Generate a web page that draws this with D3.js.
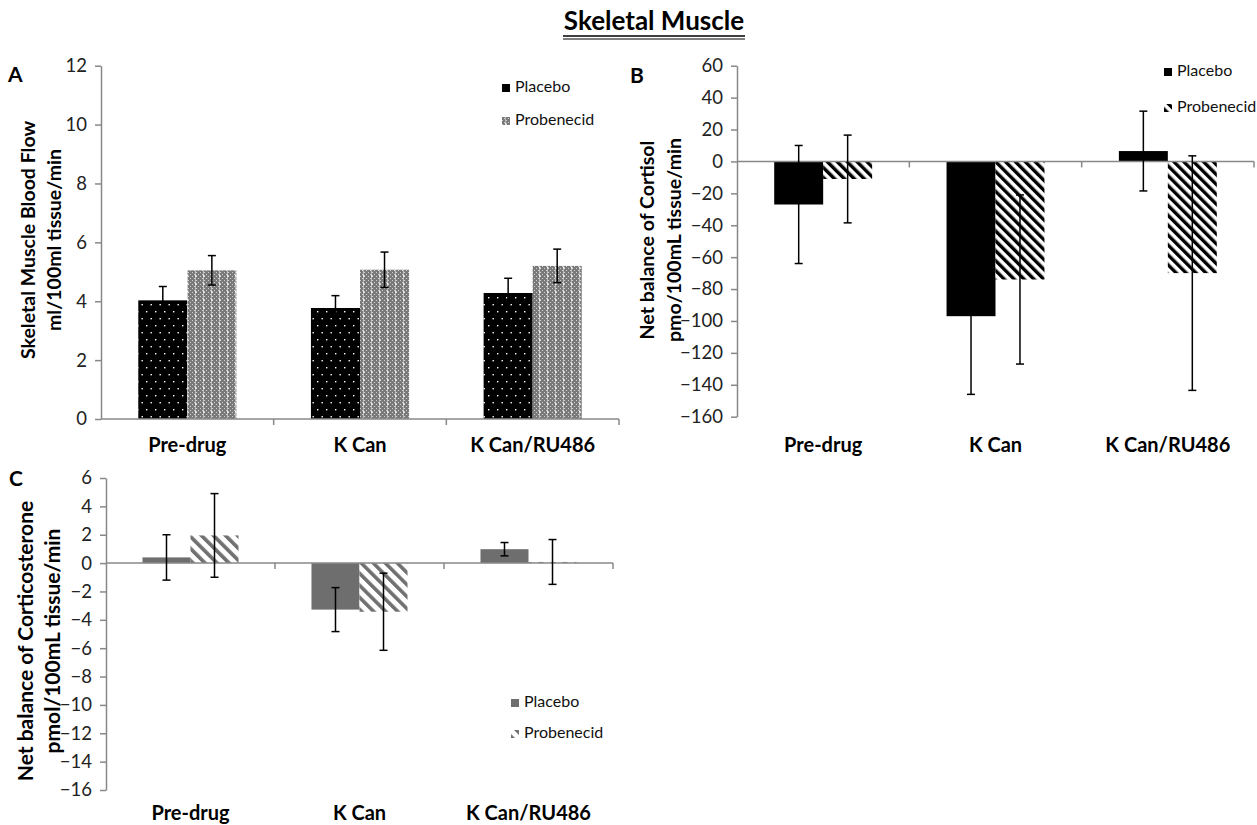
<!DOCTYPE html>
<html>
<head>
<meta charset="utf-8">
<script src="https://cdn.jsdelivr.net/npm/d3@7"></script>
<style>
  body { margin: 0; background: #fff; }
  svg { display: block; font-family: Lato, "Open Sans", sans-serif; }
</style>
</head>
<body>
<div id="chart"></div>
<script>
//Data
var categories = ["Pre-drug", "K Can", "K Can/RU486"];
var seriesNames = ["Placebo", "Probenecid"];

var flowPlacebo = [4.03, 3.77, 4.28];
var flowPlaceboErr = [0.47, 0.42, 0.5];
var flowProbenecid = [5.05, 5.07, 5.2];
var flowProbenecidErr = [0.5, 0.6, 0.57];
var flowTicks = [0, 2, 4, 6, 8, 10, 12];

var cortisolPlacebo = [-27, -97, 6.5];
var cortisolPlaceboErr = [37, 49, 25];
var cortisolProbenecid = [-11, -74, -70];
var cortisolProbenecidErr = [27.5, 53, 73.5];
var cortisolTicks = [60, 40, 20, 0, -20, -40, -60, -80, -100, -120, -140, -160];

var corticoPlacebo = [0.4, -3.28, 0.98];
var corticoPlaceboErr = [1.6, 1.55, 0.47];
var corticoProbenecid = [1.95, -3.43, 0.08];
var corticoProbenecidErr = [2.95, 2.72, 1.58];
var corticoTicks = [6, 4, 2, 0, -2, -4, -6, -8, -10, -12, -14, -16];

var axisColor = "#888";

//SVG
var svg = d3.select("#chart").append("svg")
    .attr("width", 1257)
    .attr("height", 825);

//Patterns
var defs = svg.append("defs");

var dots = defs.append("pattern").attr("id", "blackDots")
    .attr("patternUnits", "userSpaceOnUse")
    .attr("width", 9).attr("height", 14);
dots.append("rect").attr("width", 9).attr("height", 14).attr("fill", "#000");
dots.append("rect").attr("x", 2).attr("y", 3).attr("width", 1.4).attr("height", 1.4).attr("fill", "#fff");
dots.append("rect").attr("x", 6.5).attr("y", 10).attr("width", 1.4).attr("height", 1.4).attr("fill", "#fff");

var grid = defs.append("pattern").attr("id", "greyGrid")
    .attr("patternUnits", "userSpaceOnUse")
    .attr("width", 8).attr("height", 8);
grid.append("rect").attr("width", 8).attr("height", 8).attr("fill", "#7a7a7a");
[[0, 0], [2, 2], [4, 0], [6, 2], [0, 4], [2, 6], [4, 4], [6, 6]].forEach(p => {
    grid.append("rect").attr("x", p[0]).attr("y", p[1]).attr("width", 1).attr("height", 1).attr("fill", "#d0d0d0");
});
grid.append("rect").attr("x", 3).attr("y", 0).attr("width", 1).attr("height", 8).attr("fill", "#bbb");
grid.append("rect").attr("x", 3).attr("y", 3).attr("width", 1.5).attr("height", 1.5).attr("fill", "#fff");

function hatch(id, color, size, width) {
    var p = defs.append("pattern").attr("id", id)
        .attr("patternUnits", "userSpaceOnUse")
        .attr("width", size).attr("height", size)
        .attr("patternTransform", "rotate(-45)");
    p.append("rect").attr("width", size).attr("height", size).attr("fill", "#fff");
    p.append("rect").attr("x", 0).attr("width", width).attr("height", size).attr("fill", color);
}
hatch("blackHatch", "#000", 7, 3.4);
hatch("greyHatch", "#707070", 8.5, 3.6);

//Title
svg.append("text")
    .attr("x", 654).attr("y", 30)
    .attr("text-anchor", "middle")
    .attr("font-size", 26).attr("font-weight", "bold")
    .text("Skeletal Muscle");
svg.append("line").attr("x1", 563).attr("x2", 745).attr("y1", 36).attr("y2", 36).attr("stroke", "#000").attr("stroke-width", 1.5);
svg.append("line").attr("x1", 563).attr("x2", 745).attr("y1", 39).attr("y2", 39).attr("stroke", "#000").attr("stroke-width", 1.2);

function drawPanel(cfg) {
    var g = svg.append("g");

    var x = d3.scaleBand().domain(categories).range(cfg.xRange).paddingInner(0).paddingOuter(0);
    var xs = d3.scaleBand().domain(seriesNames).range([0, x.bandwidth()]).paddingInner(0).paddingOuter(0.76);
    var y = d3.scaleLinear().domain(cfg.yDomain).range(cfg.yRange);

    //y axis
    var yAxis = g.append("g")
        .attr("transform", `translate(${cfg.xRange[0]},0)`)
        .call(d3.axisLeft(y).tickValues(cfg.ticks).tickSize(6).tickSizeOuter(0).tickPadding(8));
    yAxis.select(".domain").attr("stroke", axisColor).attr("stroke-width", 1.5);
    yAxis.selectAll(".tick line").attr("stroke", axisColor).attr("stroke-width", 1.5);
    yAxis.selectAll(".tick text").attr("font-size", 18.5).attr("fill", "#222").attr("font-family", "Lato, sans-serif");

    //bars
    var series = [
        { name: "Placebo", values: cfg.placebo, errs: cfg.placeboErr, fill: cfg.fills[0] },
        { name: "Probenecid", values: cfg.probenecid, errs: cfg.probenecidErr, fill: cfg.fills[1] }
    ];
    series.forEach(s => {
        g.selectAll(null).data(categories).enter().append("rect")
            .attr("x", c => x(c) + xs(s.name))
            .attr("width", xs.bandwidth())
            .attr("y", (c, i) => y(Math.max(0, s.values[i])))
            .attr("height", (c, i) => Math.abs(y(s.values[i]) - y(0)))
            .attr("fill", s.fill);
    });

    //x axis at zero
    var y0 = y(0);
    g.append("line").attr("x1", cfg.xRange[0]).attr("x2", cfg.xRange[1])
        .attr("y1", y0).attr("y2", y0).attr("stroke", axisColor).attr("stroke-width", 1.5);
    g.selectAll(null).data(categories).enter().append("line")
        .attr("x1", c => x(c) + x.bandwidth()).attr("x2", c => x(c) + x.bandwidth())
        .attr("y1", y0).attr("y2", y0 + 6)
        .attr("stroke", axisColor).attr("stroke-width", 1.5);

    //error bars
    series.forEach(s => {
        categories.forEach((c, i) => {
            var cx = x(c) + xs(s.name) + xs.bandwidth() / 2;
            var top = y(s.values[i] + s.errs[i]);
            var bot = y(s.values[i] - s.errs[i]);
            g.append("line").attr("x1", cx).attr("x2", cx).attr("y1", top).attr("y2", bot)
                .attr("stroke", "#000").attr("stroke-width", 1.5);
            [top, bot].forEach(yy => {
                g.append("line").attr("x1", cx - 4).attr("x2", cx + 4).attr("y1", yy).attr("y2", yy)
                    .attr("stroke", "#000").attr("stroke-width", 1.5);
            });
        });
    });

    //category labels
    g.selectAll(null).data(categories).enter().append("text")
        .attr("x", c => x(c) + x.bandwidth() / 2)
        .attr("y", cfg.labelY)
        .attr("text-anchor", "middle")
        .attr("dominant-baseline", "middle")
        .attr("font-size", 20).attr("font-weight", "bold")
        .text(c => c);

    //y label
    var yl = g.append("text")
        .attr("transform", `translate(${cfg.yLabelX},${cfg.yLabelY}) rotate(-90)`)
        .attr("text-anchor", "middle")
        .attr("font-size", cfg.yLabelSize).attr("font-weight", "bold");
    yl.append("tspan").attr("x", 0).attr("dy", 0).text(cfg.yLabel[0]);
    yl.append("tspan").attr("x", 0).attr("dy", cfg.yLabelGap).text(cfg.yLabel[1]);

    //panel letter
    g.append("text").attr("x", cfg.letterPos[0]).attr("y", cfg.letterPos[1])
        .attr("font-size", 21).attr("font-weight", "bold").text(cfg.letter);

    //legend
    var leg = g.append("g").attr("transform", `translate(${cfg.legendPos[0]},${cfg.legendPos[1]})`);
    seriesNames.forEach((n, i) => {
        leg.append("rect").attr("x", 0).attr("y", i * cfg.legendGap - 4).attr("width", 8).attr("height", 8)
            .attr("fill", cfg.legendFills[i]);
        leg.append("text").attr("x", 13).attr("y", i * cfg.legendGap)
            .attr("dominant-baseline", "middle")
            .attr("font-size", 16).attr("fill", "#111")
            .text(n);
    });
}

drawPanel({
    letter: "A", letterPos: [8, 82],
    xRange: [101, 619], yDomain: [0, 12], yRange: [419, 65.7], ticks: flowTicks,
    placebo: flowPlacebo, placeboErr: flowPlaceboErr,
    probenecid: flowProbenecid, probenecidErr: flowProbenecidErr,
    fills: ["url(#blackDots)", "url(#greyGrid)"],
    legendFills: ["#000", "url(#greyGrid)"],
    labelY: 447,
    yLabel: ["Skeletal Muscle Blood Flow", "ml/100ml tissue/min"], yLabelX: 35, yLabelY: 240,
    yLabelSize: 19.5, yLabelGap: 26,
    legendPos: [502, 88], legendGap: 33
});

drawPanel({
    letter: "B", letterPos: [630, 83],
    xRange: [737, 1254], yDomain: [-160, 60], yRange: [416.7, 65.7], ticks: cortisolTicks,
    placebo: cortisolPlacebo, placeboErr: cortisolPlaceboErr,
    probenecid: cortisolProbenecid, probenecidErr: cortisolProbenecidErr,
    fills: ["#000", "url(#blackHatch)"],
    legendFills: ["#000", "url(#blackHatch)"],
    labelY: 447,
    yLabel: ["Net balance of Cortisol", "pmo/100mL tissue/min"], yLabelX: 654, yLabelY: 240,
    yLabelSize: 19.5, yLabelGap: 27,
    legendPos: [1164, 72], legendGap: 36
});

drawPanel({
    letter: "C", letterPos: [9, 486],
    xRange: [106, 613], yDomain: [-16, 6], yRange: [790, 478], ticks: corticoTicks,
    placebo: corticoPlacebo, placeboErr: corticoPlaceboErr,
    probenecid: corticoProbenecid, probenecidErr: corticoProbenecidErr,
    fills: ["#6e6e6e", "url(#greyHatch)"],
    legendFills: ["#6e6e6e", "url(#greyHatch)"],
    labelY: 815,
    yLabel: ["Net balance  of Corticosterone", "pmol/100mL tissue/min"], yLabelX: 33, yLabelY: 641,
    yLabelSize: 21, yLabelGap: 27,
    legendPos: [511, 703], legendGap: 31
});
</script>
</body>
</html>
